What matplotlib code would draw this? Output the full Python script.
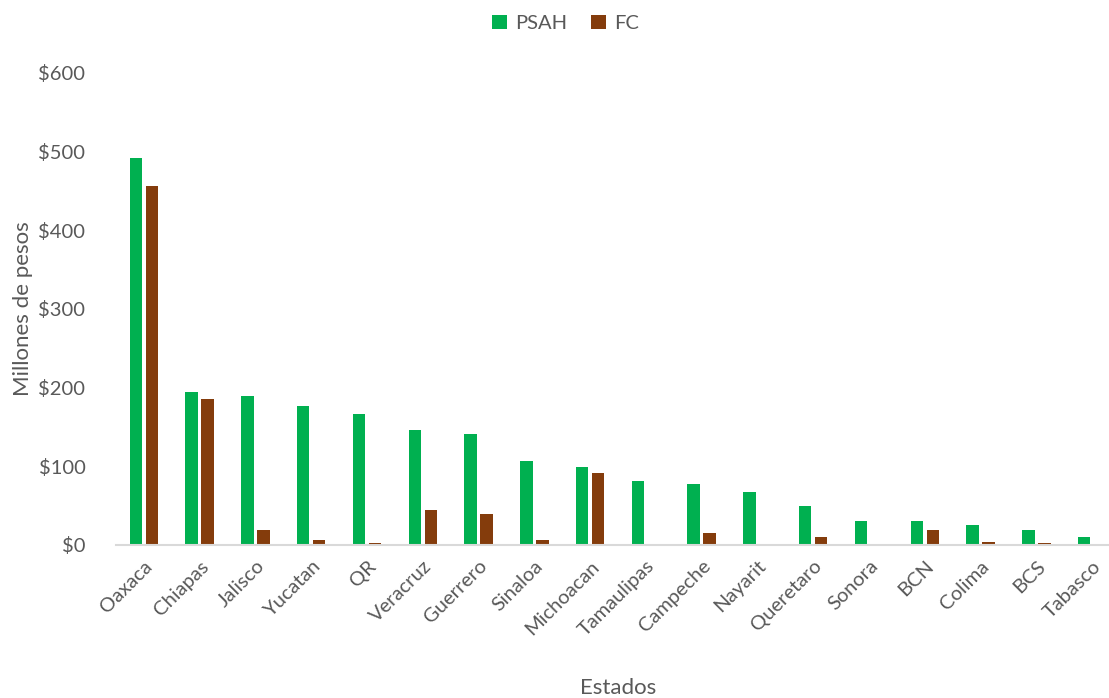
import matplotlib.pyplot as plt
import numpy as np

plt.rcParams['font.family'] = ['Lato', 'DejaVu Sans']

# datos (millones de pesos)
estados = ["Oaxaca", "Chiapas", "Jalisco", "Yucatan", "QR", "Veracruz", "Guerrero",
           "Sinaloa", "Michoacan", "Tamaulipas", "Campeche", "Nayarit", "Queretaro",
           "Sonora", "BCN", "Colima", "BCS", "Tabasco"]
psah = [492, 194, 190, 177, 167, 146, 141, 107, 99, 81, 77, 67, 50, 31, 30, 25, 19, 10]
fc = [456, 186, 19, 6, 2, 44, 39, 6, 92, 0, 15, 0, 10, 0, 19, 4, 2.5, 0.4]
y_ticks = [0, 100, 200, 300, 400, 500, 600]

gris = "#595959"
fig = plt.figure(figsize=(11.09, 6.98), dpi=100)
ax = fig.add_axes([116 / 1109, 1 - 545 / 698, (1120 - 116) / 1109, (545 - 73) / 698])

x = np.arange(len(estados))
w = 0.224
ax.bar(x - 0.143, psah, w, color="#00B050", label="PSAH")
ax.bar(x + 0.143, fc, w, color="#843C0C", label="FC")

ax.set_xlim(-0.5, len(estados) - 0.5)
ax.set_ylim(0, 600)
ax.set_yticks(y_ticks)
ax.set_yticklabels([f"${v}" for v in y_ticks])
ax.set_xticks(x)
ax.set_xticklabels(estados, rotation=45, ha="right", rotation_mode="anchor")

for s in ["top", "right", "left"]:
    ax.spines[s].set_visible(False)
ax.spines["bottom"].set_color("#d9d9d9")
ax.spines["bottom"].set_linewidth(1.5)
ax.tick_params(axis="both", length=0, labelsize=14.5, colors=gris)
ax.tick_params(axis="y", pad=22)
ax.tick_params(axis="x", pad=9)

ax.set_xlabel("Estados", fontsize=16, color=gris, labelpad=28)
ax.set_ylabel("Millones de pesos", fontsize=16, color=gris, labelpad=4)

fig.legend(loc="upper center", bbox_to_anchor=(0.51, 1.005), ncol=2, frameon=False,
           fontsize=14.5, labelcolor=gris, handlelength=0.75, handleheight=0.75,
           columnspacing=1.2, handletextpad=0.4)

fig.savefig("out.png", dpi=100)
